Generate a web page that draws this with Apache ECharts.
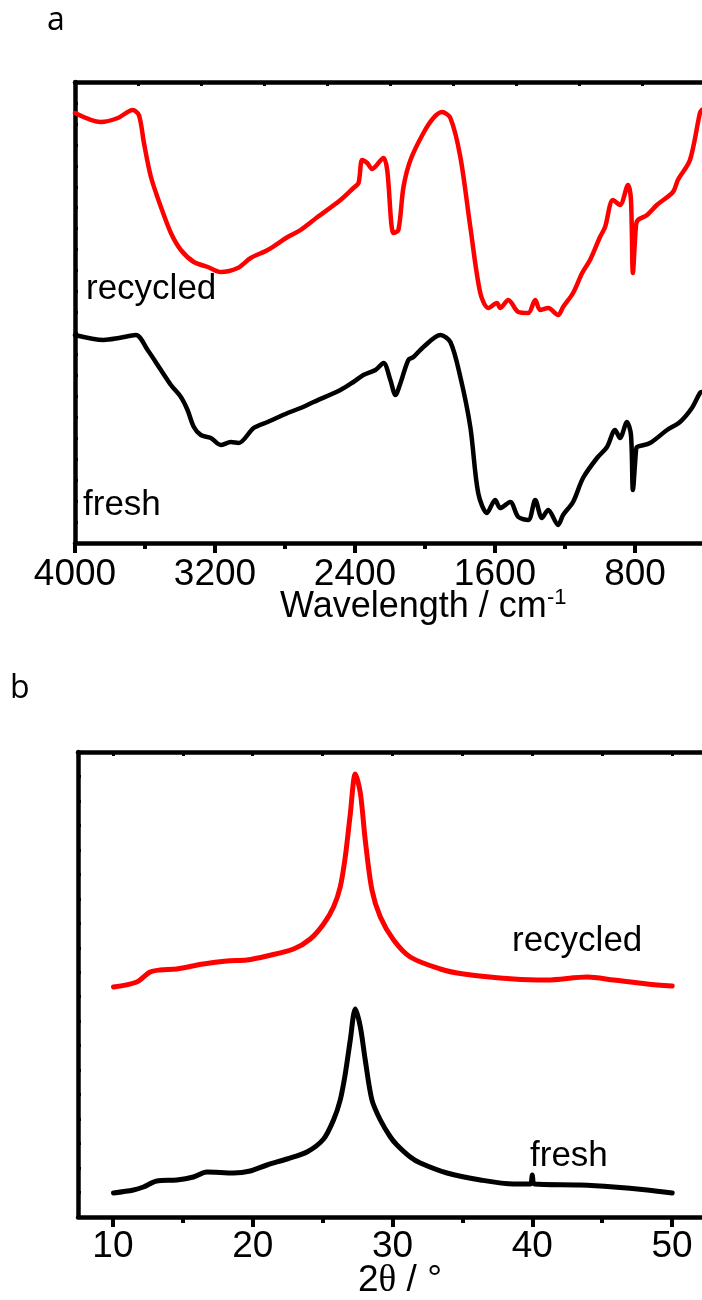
<!DOCTYPE html>
<html><head><meta charset="utf-8">
<script src="https://cdn.jsdelivr.net/npm/echarts@6/dist/echarts.min.js"></script>
<style>html,body{margin:0;padding:0;background:#fff}#c{width:702px;height:1300px}</style>
</head><body><div id="c"></div>
<script>
// ---------- Panel a: FTIR (wavenumber, cm-1) ----------
const irRecycledWn = [4000,3852,3755,3671,3635,3606,3566,3509,3452,3395,3321,3241,3167,3070,2996,2899,2785,2711,2614,2483,2409,2380,2359,2330,2302,2237,2216,2180,2152,2123,2083,2009,1952,1903,1855,1798,1741,1684,1638,1589,1570,1524,1467,1410,1370,1342,1296,1239,1211,1154,1102,1057,1000,971,926,886,840,823,812,794,783,731,675,583,555,486,429,418];
const irRecycled   = [430,421,425,433,428,400,366,336,310,293,281,276,271,275,285,293,306,313,326,343,355,360,383,380,374,385,373,310,313,356,383,410,425,431,425,386,316,250,235,240,235,243,231,230,243,233,235,228,236,250,270,283,306,316,343,338,358,343,270,318,323,328,338,351,363,383,430,433];
const irFreshWn = [4000,3835,3749,3652,3585,3509,3452,3395,3357,3321,3281,3224,3167,3110,3065,2979,2899,2785,2711,2637,2483,2409,2352,2283,2237,2198,2169,2140,2095,2066,2009,1912,1855,1798,1741,1696,1646,1599,1570,1513,1467,1410,1370,1332,1296,1239,1211,1154,1097,1017,960,914,886,846,823,812,794,789,714,617,543,475,429,418];
const irFresh   = [208,203,205,208,193,173,158,146,133,116,108,105,98,101,100,115,121,130,135,141,153,161,168,173,180,163,148,160,183,186,196,208,201,166,116,50,30,43,35,41,26,23,43,25,33,18,28,41,65,85,96,113,105,121,108,53,93,96,100,113,121,135,150,151];
const irMajorTicks = [4000,3200,2400,1600,800];
const irMinorTicks = [3600,2800,2000,1200,400];

// ---------- Panel b: XRD (2θ, degrees) ----------
const xrdRecycledTheta = [10.04,11.71,12.66,13.38,14.57,16.46,18.15,19.58,21.02,22.92,24.12,25.07,25.78,26.26,26.62,26.98,27.34,27.70,28.05,28.53,29.13,30.08,31.27,33.42,35.09,38.67,41.06,43.92,45.83,48.22,50.01];
const xrdRecycled      = [230,235,245,247,248,253,256,257,261,268,278,293,310,330,360,403,443,424,377,327,300,277,260,248,243,238,237,240,237,233,231];
const xrdFreshTheta = [10.04,11.47,12.18,13.14,14.57,15.76,16.72,18.63,19.82,21.02,22.45,23.88,25.07,25.78,26.26,26.62,26.98,27.34,27.70,28.05,28.53,29.13,29.85,30.32,31.27,31.99,33.90,36.29,38.67,39.85,40.0,40.15,43.42,45.83,48.22,50.01];
const xrdFresh      = [24,27,30,36,37,40,45,44,46,52,58,65,78,97,117,143,177,208,190,157,117,97,80,72,60,54,44,37,33,33,42,33,32,30,27,24];
const xrdMajorTicks = [10,20,30,40,50];
const xrdAllTicks = [10,15,20,25,30,35,40,45,50];
const xrdMinorTicks = [15,25,35,45];

const FONT = "'Liberation Sans', Arial, Helvetica, sans-serif";
const pairs = (xs, ys) => xs.map((x, i) => [x, ys[i]]);
const AX = {color:'#000', width:4.5};

function bottomAxis(grid, min, max, inverse, ticks, labels, len, margin) {
  return {
    gridIndex: grid, type: 'value', position: 'bottom', min, max, inverse,
    axisLine: {show: labels !== null, onZero: false, lineStyle: AX},
    axisTick: {show: true, inside: false, length: len, customValues: ticks, lineStyle: {color:'#000', width:4}},
    axisLabel: labels === null ? {show:false} : {show: true, customValues: labels, margin: margin, fontSize: 37, fontFamily: FONT, color: '#000', formatter: v => String(v)},
    splitLine: {show: false}
  };
}

const option = {
  animation: false,
  backgroundColor: '#fff',
  grid: [
    {left: 75, top: 82, width: 630, height: 461, outerBoundsMode: 'none', containLabel: false},
    {left: 78, top: 752, width: 629, height: 465, outerBoundsMode: 'none', containLabel: false}
  ],
  xAxis: [
    bottomAxis(0, 400, 4000, true, irMajorTicks, irMajorTicks, 10, 13),
    bottomAxis(0, 400, 4000, true, irMinorTicks, null, 6, 0),
    {gridIndex: 0, type: 'value', position: 'top', min: 0, max: 10, interval: 1,
     axisLine: {show: true, onZero: false, lineStyle: AX},
     axisTick: {show: true, inside: true, length: 4, lineStyle: {color:'#000', width:3}},
     axisLabel: {show: false}, splitLine: {show: false}},
    bottomAxis(1, 7.5, 52.5, false, xrdMajorTicks, xrdMajorTicks, 10, 11),
    bottomAxis(1, 7.5, 52.5, false, xrdMinorTicks, null, 6, 0),
    {gridIndex: 1, type: 'value', position: 'top', min: 7.5, max: 52.5,
     axisLine: {show: true, onZero: false, lineStyle: AX},
     axisTick: {show: true, inside: true, length: 4, customValues: xrdAllTicks, lineStyle: {color:'#000', width:3}},
     axisLabel: {show: false}, splitLine: {show: false}}
  ],
  yAxis: [
    {gridIndex: 0, type: 'value', min: 0, max: 461, interval: 461/22,
     axisLine: {show: true, onZero: false, lineStyle: AX},
     axisTick: {show: true, inside: true, length: 3, lineStyle: {color:'#000', width:3}},
     axisLabel: {show: false}, splitLine: {show: false}},
    {gridIndex: 1, type: 'value', min: 0, max: 465, interval: 465/19,
     axisLine: {show: true, onZero: false, lineStyle: AX},
     axisTick: {show: true, inside: true, length: 3, lineStyle: {color:'#000', width:3}},
     axisLabel: {show: false}, splitLine: {show: false}}
  ],
  series: [
    {name: 'recycled', type: 'line', xAxisIndex: 0, yAxisIndex: 0, data: pairs(irRecycledWn, irRecycled),
     showSymbol: false, smooth: 0.3, lineStyle: {color: '#ff0000', width: 4.5, cap: 'round', join: 'round'}},
    {name: 'fresh', type: 'line', xAxisIndex: 0, yAxisIndex: 0, data: pairs(irFreshWn, irFresh),
     showSymbol: false, smooth: 0.3, lineStyle: {color: '#000000', width: 4.5, cap: 'round', join: 'round'}},
    {name: 'recycled XRD', type: 'line', xAxisIndex: 3, yAxisIndex: 1, data: pairs(xrdRecycledTheta, xrdRecycled),
     showSymbol: false, smooth: 0.3, lineStyle: {color: '#ff0000', width: 5, cap: 'round', join: 'round'}},
    {name: 'fresh XRD', type: 'line', xAxisIndex: 3, yAxisIndex: 1, data: pairs(xrdFreshTheta, xrdFresh),
     showSymbol: false, smooth: 0.3, lineStyle: {color: '#000000', width: 5, cap: 'round', join: 'round'}}
  ],
  graphic: [
    {type: 'text', x: 47, y: 21, style: {text: 'a', fontSize: 32, fontFamily: "'Open Sans', 'Noto Sans', sans-serif", fill: '#000', align: 'left', verticalAlign: 'middle'}},
    {type: 'text', x: 10, y: 689, style: {text: 'b', fontSize: 32, fontFamily: "'Open Sans', 'Noto Sans', sans-serif", fill: '#000', align: 'left', verticalAlign: 'middle'}},
    {type: 'text', x: 86, y: 289, style: {text: 'recycled', fontSize: 35, fontFamily: FONT, fill: '#000', align: 'left', verticalAlign: 'middle'}},
    {type: 'text', x: 83, y: 505, style: {text: 'fresh', fontSize: 35, fontFamily: FONT, fill: '#000', align: 'left', verticalAlign: 'middle'}},
    {type: 'text', x: 512, y: 941, style: {text: 'recycled', fontSize: 35, fontFamily: FONT, fill: '#000', align: 'left', verticalAlign: 'middle'}},
    {type: 'text', x: 530, y: 1156, style: {text: 'fresh', fontSize: 35, fontFamily: FONT, fill: '#000', align: 'left', verticalAlign: 'middle'}},
    {type: 'text', x: 280, y: 607, style: {text: 'Wavelength / cm', fontSize: 36, fontFamily: FONT, fill: '#000', align: 'left', verticalAlign: 'middle'}},
    {type: 'text', x: 547, y: 598, style: {text: '-1', fontSize: 22, fontFamily: FONT, fill: '#000', align: 'left', verticalAlign: 'middle'}},
    {type: 'text', x: 400, y: 1281, style: {
      text: '{n|2}{t|θ}{n| / °}', align: 'center', verticalAlign: 'middle',
      rich: {n: {fontSize: 37, fontFamily: FONT, fill: '#000'}, t: {fontSize: 37, fontFamily: "'Liberation Serif', 'DejaVu Serif', serif", fill: '#000'}}}}
  ]
};
const chart = echarts.init(document.getElementById('c'), null, {renderer: 'canvas'});
chart.setOption(option);
</script></body></html>
